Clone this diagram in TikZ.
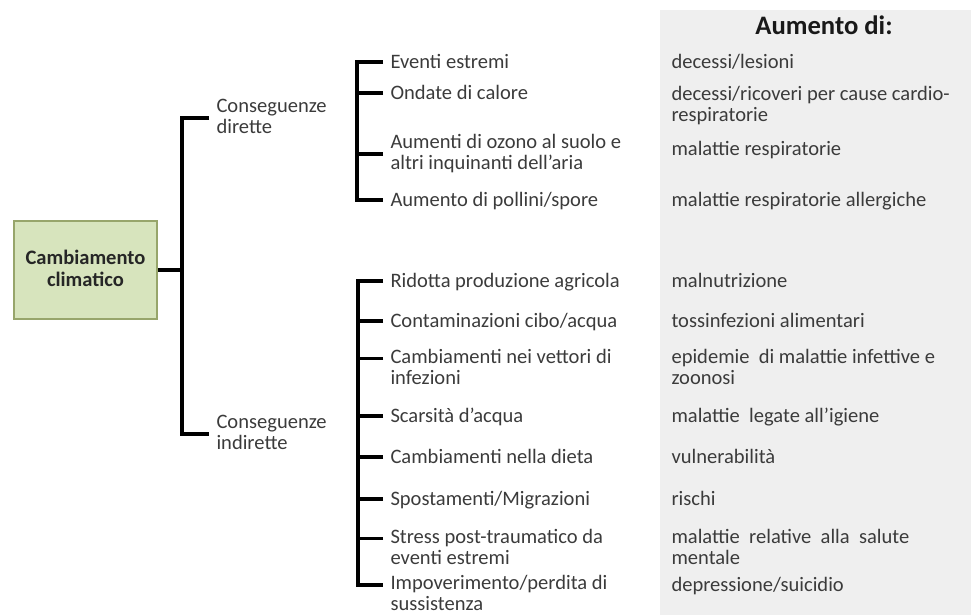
\documentclass[tikz,border=0pt]{standalone}
\usepackage{fontspec}
\setmainfont{Carlito}
\usetikzlibrary{positioning,calc}
\definecolor{panel}{HTML}{EFEFEF}
\definecolor{leaf}{HTML}{D7E4BD}
\definecolor{leafedge}{HTML}{97A56B}
\definecolor{ink}{HTML}{3B3B3B}
\newcommand\lstrut{\rule[-3.1pt]{0pt}{15.75pt}}
\newcommand\brk{\\\lstrut}
\tikzset{every node/.style={font=\fontsize{15.4}{15.75}\selectfont,text=ink,execute at begin node=\lstrut},
  item/.style={anchor=west,align=left,inner xsep=4.5pt,inner ysep=0pt},
  effect/.style={anchor=west,align=left,inner xsep=4.5pt,inner ysep=0pt}}
\begin{document}
\begin{tikzpicture}[x=.75pt,y=-.75pt,line width=2.3pt,
  rootbox/.style={draw=leafedge,fill=leaf,line width=1.4pt,minimum width=107pt,minimum height=73pt,align=center,
    font=\fontsize{15.4}{16.5}\selectfont\bfseries,text=black!85}]
\useasboundingbox (0,0) rectangle (971,615);
\fill[panel] (660,10) rectangle (971,615);
\node[rootbox] (clima) at (85.5,270) {Cambiamento\brk climatico};
\node[item] (dirette) at (209,118) {Conseguenze\brk dirette};
\node[item] (indirette) at (209,434) {Conseguenze\brk indirette};
\coordinate (sp1) at (182,270);
\draw (clima) -- (sp1);\draw (dirette.west) -| (sp1) |- (indirette.west);
% conseguenze dirette
\node[item] (eventi) at (383,62) {Eventi estremi};
\node[item] (ondate) at (383,93) {Ondate di calore};
\node[item] (ozono) at (383,154) {Aumenti di ozono al suolo e\brk altri inquinanti dell'aria};
\node[item] (pollini) at (383,200) {Aumento di pollini/spore};
\coordinate (sp2) at (357,130);
\draw (eventi.west) -| (sp2) |- (pollini.west);
\foreach \n in {ondate,ozono} \draw (\n.west) -- (\n.west -| sp2);
% conseguenze indirette
\node[item] (agricola) at (383,281) {Ridotta produzione agricola};
\node[item] (cibo) at (383,321) {Contaminazioni cibo/acqua};
\node[item] (vettori) at (383,369) {Cambiamenti nei vettori di\brk infezioni};
\node[item] (acqua) at (383,416) {Scarsità d'acqua};
\node[item] (dieta) at (383,457) {Cambiamenti nella dieta};
\node[item] (migr) at (383,499) {Spostamenti/Migrazioni};
\node[item] (stress) at (383,549) {Stress post-traumatico da\brk eventi estremi};
\node[item] (sussist) at (383,595) {Impoverimento/perdita di\brk sussistenza};
\coordinate (sp3) at (358,430);
\draw (agricola.west) -| (sp3) |- ([yshift=7.5pt]sussist.west);
\foreach \n in {cibo,acqua,dieta,migr} \draw (\n.west) -- (\n.west -| sp3);
\foreach \n in {vettori,stress} \draw ([yshift=8.1pt]\n.west) -- ([yshift=8.1pt]\n.west -| sp3);
% aumento di
\coordinate (col) at (664,0);
\node[font=\fontsize{20}{24}\selectfont\bfseries,text=black!90] (head) at (824,27) {Aumento di:};
\node[effect] (lesioni) at (col |- eventi) {decessi/lesioni};
\node[effect] (cardio) at (664,106) {decessi/ricoveri per cause cardio-\brk respiratorie};
\node[effect] (respir) at (664,149) {malattie respiratorie};
\node[effect] (allerg) at (664,200) {malattie respiratorie allergiche};
\node[effect] (malnutr) at (col |- agricola) {malnutrizione};
\node[effect] (tossinf) at (col |- cibo) {tossinfezioni alimentari};
\node[effect] (zoonosi) at (col |- vettori) {epidemie\ \ di malattie infettive e\brk zoonosi};
\node[effect] (igiene) at (col |- acqua) {malattie\ \ legate all'igiene};
\node[effect] (vulner) at (col |- dieta) {vulnerabilità};
\node[effect] (rischi) at (col |- migr) {rischi};
\node[effect] (mentale) at (col |- stress) {malattie\ \ relative\ \ alla\ \ salute\brk mentale};
\node[effect] (suicidio) at (664,585) {depressione/suicidio};
\end{tikzpicture}
\end{document}
